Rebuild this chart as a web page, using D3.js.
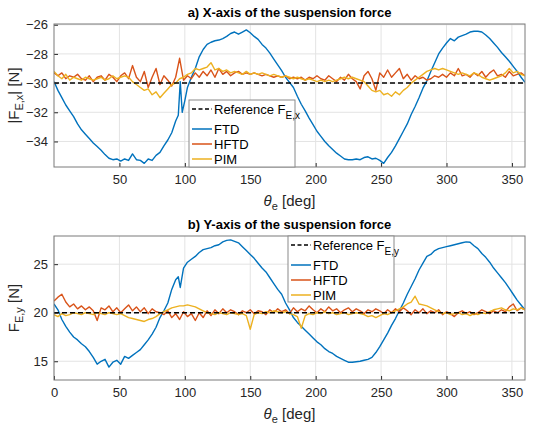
<!DOCTYPE html>
<html><head><meta charset="utf-8">
<script src="https://cdn.jsdelivr.net/npm/d3@7/dist/d3.min.js"></script>
<style>body{margin:0;background:#fff}svg{display:block;font-family:"Liberation Sans",Arial,sans-serif}</style>
</head><body>
<svg id="c" width="533" height="425"></svg>
<script>
// ---------- data ----------
const theta = d3.range(0, 361, 3);
const xTicksTop = [50,100,150,200,250,300,350];
const xTicksBot = [0,50,100,150,200,250,300,350];
const yTicksTop = [-34,-32,-30,-28,-26];
const yTicksBot = [15,20,25];
const refX = -30;
const refY = 20;
const seriesNames = ["FTD","HFTD","PIM"];
const seriesColors = ["#0072BD","#D95319","#EDB120"];

const ftdXTheta = [0,3,6,9,12,15,18,21,24,27,30,33,36,39,42,45,48,51,54,57,60,63,66,69,72,75,78,81,84,87,90,93,95,96.5,98,100,102,105,108,111,114,117,120,123,126,129,132,135,138,141,144,147,150,153,156,159,162,165,168,171,174,177,180,183,186,189,192,195,198,201,204,207,210,213,216,219,222,225,228,231,234,237,240,243,246,249,252,255,258,261,264,267,270,273,276,279,282,285,288,291,294,297,300,303,306,309,312,315,318,321,324,327,330,333,336,339,342,345,348,351,354,357,360];
const ftdX = [-29.9,-30.5,-31.0,-31.5,-31.9,-32.3,-32.8,-33.2,-33.5,-33.8,-34.1,-34.35,-34.6,-34.9,-35.15,-35.25,-35.2,-35.35,-35.2,-35.3,-34.85,-35.25,-35.3,-35.5,-35.2,-35.3,-34.95,-34.75,-34.3,-33.9,-33.4,-32.6,-32.2,-29.9,-32.0,-31.2,-30.3,-29.6,-29.0,-28.2,-27.7,-27.35,-27.2,-27.1,-27.05,-26.95,-26.8,-26.6,-26.5,-26.65,-26.5,-26.35,-26.55,-26.8,-27.0,-27.35,-27.6,-27.95,-28.35,-28.75,-29.15,-29.6,-29.95,-30.3,-30.9,-31.45,-31.9,-32.4,-32.85,-33.3,-33.65,-34.0,-34.3,-34.55,-34.8,-35.0,-35.2,-35.25,-35.25,-35.2,-35.25,-35.1,-35.05,-35.2,-35.15,-35.3,-35.5,-35.1,-34.75,-34.3,-33.8,-33.3,-32.8,-32.15,-31.6,-31.0,-30.35,-29.85,-29.2,-28.6,-28.0,-27.6,-27.25,-26.95,-27.1,-26.85,-26.75,-26.65,-26.5,-26.45,-26.45,-26.5,-26.7,-26.95,-27.25,-27.55,-27.9,-28.2,-28.5,-28.85,-29.2,-29.6,-29.95];
const hftdX = [-29.3,-29.5,-29.3,-29.7,-29.5,-29.6,-29.4,-29.7,-29.8,-29.5,-29.9,-29.6,-29.5,-29.8,-29.4,-29.6,-29.9,-29.5,-29.3,-29.7,-28.8,-29.6,-29.9,-29.2,-30.3,-29.6,-29.0,-30.1,-29.5,-29.8,-30.2,-29.6,-28.3,-29.8,-29.5,-29.7,-29.3,-29.6,-29.2,-29.5,-29.1,-29.6,-29.0,-29.4,-29.2,-29.5,-29.3,-29.2,-29.4,-29.3,-29.4,-29.3,-29.4,-29.5,-29.4,-29.5,-29.6,-29.5,-29.6,-29.5,-29.7,-29.6,-29.7,-29.6,-29.8,-29.6,-29.7,-29.5,-29.7,-29.8,-29.5,-29.7,-29.9,-29.6,-29.8,-29.4,-29.7,-29.9,-30.4,-29.5,-29.2,-29.7,-30.5,-29.3,-29.6,-29.1,-29.6,-29.3,-29.0,-29.7,-29.4,-29.8,-29.5,-29.7,-29.6,-29.8,-29.7,-29.5,-29.6,-29.4,-29.6,-29.3,-29.5,-29.0,-29.5,-29.4,-29.6,-29.3,-29.5,-29.2,-29.6,-29.3,-29.1,-29.5,-29.4,-29.6,-29.2,-29.5,-29.4,-29.3,-29.5];
const pimX = [-29.2,-29.5,-29.7,-29.4,-29.8,-29.6,-29.7,-29.8,-29.6,-29.7,-29.8,-29.7,-29.6,-29.8,-29.7,-29.5,-29.7,-29.6,-29.5,-29.6,-29.9,-30.1,-30.3,-30.5,-30.4,-30.8,-30.6,-31.0,-30.7,-30.4,-30.1,-30.0,-29.7,-29.6,-29.4,-29.3,-29.0,-29.1,-29.0,-28.9,-28.6,-29.1,-29.0,-29.2,-29.1,-29.3,-29.2,-29.3,-29.4,-29.2,-29.4,-29.3,-29.4,-29.3,-29.4,-29.5,-29.4,-29.5,-29.6,-29.5,-29.6,-29.7,-29.6,-29.7,-29.8,-29.7,-29.8,-29.9,-29.8,-29.9,-29.8,-29.9,-29.8,-29.7,-29.6,-29.7,-29.6,-29.7,-29.8,-29.9,-30.2,-30.5,-30.6,-30.5,-30.8,-30.7,-30.9,-30.6,-30.8,-30.5,-30.3,-30.0,-29.8,-29.6,-29.4,-29.2,-29.1,-29.0,-29.1,-29.0,-29.1,-29.2,-29.3,-29.4,-29.3,-29.4,-29.5,-29.3,-29.4,-29.6,-29.7,-29.8,-29.7,-29.6,-29.5,-29.3,-29.0,-29.3,-29.2,-29.4,-29.5];

const ftdYTheta = [0,3,6,9,12,15,18,21,24,27,30,33,36,39,42,45,48,51,54,57,60,63,66,69,72,75,78,81,84,87,90,93,95,96.5,99,102,105,108,111,114,117,120,123,126,129,132,135,138,141,144,147,150,153,156,159,162,165,168,171,174,177,180,183,186,189,192,195,198,201,204,207,210,213,216,219,222,225,228,231,234,237,240,243,246,249,252,255,258,261,264,267,270,273,276,279,282,285,288,291,294,297,300,303,306,309,312,315,318,321,324,327,330,333,336,339,342,345,348,351,354,357,360];
const ftdY = [20.9,20.3,19.3,18.6,18.0,17.5,17.2,16.8,16.5,16.0,15.4,14.7,15.0,15.2,14.4,14.9,15.1,14.7,15.5,15.3,15.6,15.9,16.2,16.7,17.2,17.8,18.5,19.5,20.2,21.0,22.4,23.4,23.7,22.6,24.6,25.2,25.5,25.8,26.2,26.5,26.6,26.7,26.9,27.0,27.3,27.45,27.5,27.35,27.2,26.8,26.4,26.0,25.6,25.1,24.6,24.2,23.6,23.0,22.4,21.9,21.0,20.3,19.5,19.0,18.6,18.2,17.8,17.4,17.0,16.7,16.3,16.0,15.8,15.5,15.3,15.1,14.9,14.9,14.95,15.0,15.1,15.2,15.4,15.9,16.5,17.2,17.9,18.7,19.4,20.2,21.0,21.9,22.7,23.5,24.4,25.1,25.8,26.0,26.4,26.6,26.7,26.8,26.9,27.0,27.1,27.2,27.3,27.25,26.9,26.6,26.1,25.7,25.2,24.6,24.1,23.6,23.1,22.5,21.9,21.3,20.8,20.3];
const hftdY = [21.2,21.6,21.9,21.1,20.6,20.9,20.4,20.7,20.3,20.6,20.2,19.2,20.5,20.3,20.7,20.1,20.5,20.0,20.4,20.8,20.2,20.6,20.1,20.5,19.9,20.4,20.1,20.0,19.8,20.2,19.5,19.9,19.3,20.1,19.6,19.9,19.2,20.0,19.5,20.2,19.7,20.3,19.9,20.4,20.0,20.3,20.1,19.8,20.2,20.0,20.3,19.9,20.2,20.1,19.8,20.3,20.0,20.4,20.1,20.3,19.9,20.5,20.1,20.4,20.2,20.7,20.3,20.0,20.4,20.1,20.6,20.2,20.4,20.0,20.3,20.5,20.1,20.4,20.2,19.9,20.3,20.1,20.4,20.2,19.9,20.3,20.0,20.4,20.1,20.5,20.2,19.8,20.3,20.0,20.4,19.9,20.2,20.0,20.3,19.8,20.1,19.9,19.6,20.0,20.2,19.9,20.1,19.8,20.0,20.3,20.1,19.9,20.2,20.0,20.3,20.1,20.6,20.9,20.2,20.5,20.3];
const pimY = [19.8,19.6,19.9,19.7,19.8,20.0,19.9,19.8,20.0,19.9,19.8,20.0,19.9,19.8,20.0,19.9,19.8,19.9,19.7,19.5,19.4,19.3,19.2,19.1,19.3,19.4,19.6,19.9,20.1,20.3,20.5,20.6,20.7,20.7,20.8,20.7,20.6,20.4,20.2,20.0,19.9,19.8,20.0,19.9,19.8,20.0,19.9,19.8,19.9,19.7,18.3,19.8,20.0,19.9,20.1,20.0,20.2,20.1,20.0,20.1,19.9,19.8,19.6,18.4,19.7,19.9,19.8,20.0,19.9,20.1,19.9,20.0,19.8,19.9,20.0,19.8,19.9,20.0,19.9,19.8,19.6,19.7,19.5,19.7,19.9,19.8,20.0,20.2,20.4,20.6,20.9,21.1,21.7,20.9,20.8,20.7,20.5,20.3,20.1,19.9,20.0,19.8,19.9,20.0,19.8,19.9,19.7,19.9,19.8,20.0,19.9,20.1,20.3,20.4,20.5,20.3,20.2,20.4,20.3,20.5,20.3];

// ---------- drawing ----------
const svg = d3.select("#c");
const L = 54, R = 525;
const axisCol = "#262626";
const FONT = "'Liberation Sans', Arial, sans-serif";

function panel(cfg){
  const x = d3.scaleLinear().domain([0,360]).range([L,R]);
  const y = d3.scaleLinear().domain(cfg.yDomain).range([cfg.bottom, cfg.top]);
  const g = svg.append("g").style("font-family",FONT);
  const cid = "clip"+cfg.id;
  svg.append("clipPath").attr("id",cid).append("rect")
    .attr("x",L).attr("y",cfg.top).attr("width",R-L).attr("height",cfg.bottom-cfg.top);
  g.append("g").selectAll("line").data(cfg.xTicks).join("line")
    .attr("x1",d=>x(d)).attr("x2",d=>x(d)).attr("y1",cfg.top).attr("y2",cfg.bottom)
    .attr("stroke","#e3e3e3").attr("stroke-width",1);
  g.append("g").selectAll("line").data(cfg.yTicks).join("line")
    .attr("y1",d=>y(d)).attr("y2",d=>y(d)).attr("x1",L).attr("x2",R)
    .attr("stroke","#e3e3e3").attr("stroke-width",1);
  const lg = g.append("g").attr("clip-path",`url(#${cid})`);
  const line = d3.line().x(d=>x(d[0])).y(d=>y(d[1]));
  cfg.series.forEach((s,i)=>{
    lg.append("path").datum(s.t.map((t,k)=>[t,s.v[k]]))
      .attr("d",line).attr("fill","none").attr("stroke",seriesColors[i])
      .attr("stroke-width",1.4).attr("stroke-linejoin","round");
  });
  lg.append("path").datum([[0,cfg.ref],[360,cfg.ref]]).attr("d",line)
    .attr("stroke","#000").attr("stroke-width",1.5).attr("stroke-dasharray","5,3");
  const xa = g.append("g").attr("transform",`translate(0,${cfg.bottom})`)
    .call(d3.axisBottom(x).tickValues(cfg.xTicks).tickSize(-4).tickPadding(8).tickSizeOuter(0));
  const ya = g.append("g").attr("transform",`translate(${L},0)`)
    .call(d3.axisLeft(y).tickValues(cfg.yTicks).tickSize(-4).tickPadding(6).tickSizeOuter(0));
  [xa,ya].forEach(a=>{
    a.select(".domain").remove();
    a.selectAll("line").attr("stroke",axisCol);
    a.selectAll("text").attr("fill",axisCol).style("font-size","13px").style("font-family",FONT);
  });
  g.append("rect").attr("x",L).attr("y",cfg.top).attr("width",R-L).attr("height",cfg.bottom-cfg.top)
    .attr("fill","none").attr("stroke","#7a7a7a").attr("stroke-width",1);
  g.append("text").attr("x",(L+R)/2).attr("y",cfg.top-7).attr("text-anchor","middle")
    .attr("font-weight","bold").attr("font-size","13px").attr("fill","#000").text(cfg.title);
  const xl = g.append("text").attr("x",(L+R)/2).attr("y",cfg.bottom+39).attr("text-anchor","middle")
    .attr("font-size","15px").attr("fill",axisCol);
  xl.append("tspan").attr("font-style","italic").text("θ");
  xl.append("tspan").attr("dy",4).attr("font-size","11px").text("e");
  xl.append("tspan").attr("dy",-4).text(" [deg]");
  const yl = g.append("text").attr("transform",`translate(19,${(cfg.top+cfg.bottom)/2}) rotate(-90)`)
    .attr("text-anchor","middle").attr("font-size","15px").attr("fill",axisCol);
  cfg.ylab(yl);
  const lgd = g.append("g").attr("transform",`translate(${cfg.leg[0]},${cfg.leg[1]})`);
  lgd.append("rect").attr("x",0).attr("y",0).attr("width",cfg.leg[2]).attr("height",cfg.leg[3])
    .attr("fill","#fff").attr("stroke","#8a8a8a").attr("stroke-width",1);
  const rows = [9,29,44,59];
  lgd.append("line").attr("x1",3).attr("x2",23).attr("y1",rows[0]).attr("y2",rows[0])
    .attr("stroke","#000").attr("stroke-width",1.5).attr("stroke-dasharray","4,2.5");
  const rt = lgd.append("text").attr("x",25).attr("y",rows[0]+4.5).attr("font-size","13px").attr("fill","#000");
  rt.append("tspan").text("Reference F");
  rt.append("tspan").attr("dy",5).attr("font-size","10px").text(cfg.sub);
  seriesNames.forEach((n,i)=>{
    lgd.append("line").attr("x1",3).attr("x2",23).attr("y1",rows[i+1]).attr("y2",rows[i+1])
      .attr("stroke",seriesColors[i]).attr("stroke-width",1.5);
    lgd.append("text").attr("x",25).attr("y",rows[i+1]+4.5).attr("font-size","13px").attr("fill","#000").text(n);
  });
}

panel({id:"a", top:24, bottom:167, yDomain:[-35.75,-25.95], xTicks:xTicksTop, yTicks:yTicksTop,
  title:"a) X-axis of the suspension force", ref:refX, sub:"E,x", leg:[189,100,106,67],
  series:[{t:ftdXTheta,v:ftdX},{t:theta,v:hftdX},{t:theta,v:pimX}],
  ylab:t=>{t.append("tspan").text("|F");t.append("tspan").attr("dy",4).attr("font-size","11px").text("E,x");t.append("tspan").attr("dy",-4).text("| [N]");}});
panel({id:"b", top:236, bottom:380, yDomain:[13.07,27.9], xTicks:xTicksBot, yTicks:yTicksBot,
  title:"b) Y-axis of the suspension force", ref:refY, sub:"E,y", leg:[288,236,106,66],
  series:[{t:ftdYTheta,v:ftdY},{t:theta,v:hftdY},{t:theta,v:pimY}],
  ylab:t=>{t.append("tspan").text("F");t.append("tspan").attr("dy",4).attr("font-size","11px").text("E,y");t.append("tspan").attr("dy",-4).text(" [N]");}});
</script>
</body></html>
